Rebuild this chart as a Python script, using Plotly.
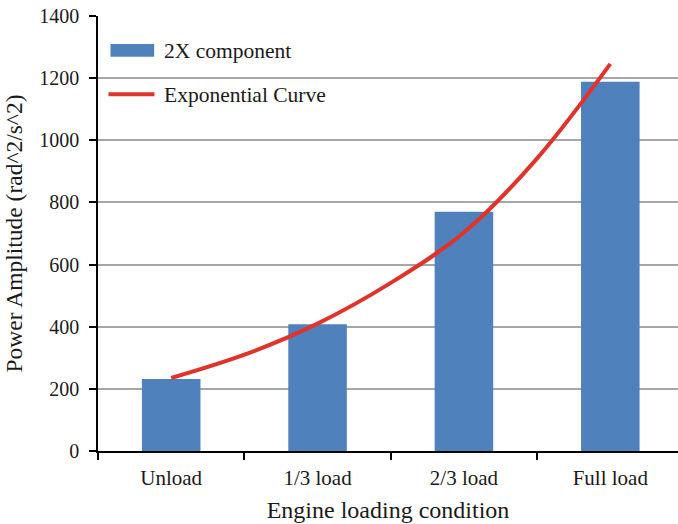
import plotly.graph_objects as go

categories = ["Unload", "1/3 load", "2/3 load", "Full load"]
bar_values = [232, 408, 770, 1188]

# exponential curve (x in category units)
curve_x = [0, 0.5, 1, 1.5, 2, 2.5, 3]
curve_y = [235, 310, 410, 541, 703, 942, 1246]

y_ticks = [0, 200, 400, 600, 800, 1000, 1200, 1400]

W, H = 678, 524
ml, mr, mt, mb = 97.5, 0, 16, 73
pw, ph = W - ml - mr, H - mt - mb

def px(x):
    return (x - ml) / pw

def py(y):
    return 1 - (y - mt) / ph

FONT = "Liberation Serif, Times New Roman, serif"
BLUE = "#4F81BD"
RED = "#E0332A"

fig = go.Figure()
fig.add_trace(go.Bar(x=categories, y=bar_values, marker=dict(color=BLUE, line=dict(width=0)),
                     width=0.4, name="2X component", showlegend=False))
fig.add_trace(go.Scatter(x=curve_x, y=curve_y, mode="lines", xaxis="x2",
                         line=dict(color=RED, width=4, shape="spline"),
                         name="Exponential Curve", showlegend=False))

xr = [-0.5, 3.5 - 5.5 / 146.3]
fig.update_layout(
    width=W, height=H,
    margin=dict(l=ml, r=mr, t=mt, b=mb, pad=0, autoexpand=False),
    plot_bgcolor="white", paper_bgcolor="white",
    font=dict(family=FONT, size=20, color="#1a1a1a"),
    bargap=0.6,
    xaxis=dict(type="category", range=xr, tickson="boundaries", ticks="outside",
               ticklen=7, tickwidth=1.5, tickcolor="black", showline=True,
               linecolor="black", linewidth=1.5, showgrid=False, automargin=False,
               ticklabelstandoff=7, tickfont=dict(size=21), ticklabeloverflow="allow",
               title=dict(text="Engine loading condition", font=dict(size=24), standoff=12)),
    xaxis2=dict(overlaying="x", range=xr, visible=False, showgrid=False),
    yaxis=dict(range=[0, 1400], tickvals=y_ticks, ticks="outside", ticklen=7,
               tickwidth=1.5, tickcolor="black", showline=True, linecolor="black",
               linewidth=1.5, showgrid=True, gridcolor="#A6A6A6", gridwidth=1.5,
               zeroline=False, ticklabelstandoff=6, tickfont=dict(size=20), automargin=False,
               ticklabeloverflow="allow",
               title=dict(text="Power Amplitude (rad^2/s^2)", font=dict(size=23.5), standoff=10)),
)

# legend drawn manually
fig.add_shape(type="rect", xref="paper", yref="paper",
              x0=px(110), x1=px(153.7), y0=py(56.7), y1=py(44),
              fillcolor=BLUE, line=dict(width=0))
fig.add_shape(type="line", xref="paper", yref="paper",
              x0=px(108), x1=px(154), y0=py(94.3), y1=py(94.3),
              line=dict(color=RED, width=4))
fig.add_annotation(xref="paper", yref="paper", x=px(162), y=py(50.5), text="2X component",
                   showarrow=False, xanchor="left", yanchor="middle", font=dict(size=21.5))
fig.add_annotation(xref="paper", yref="paper", x=px(162), y=py(94.5), text="Exponential Curve",
                   showarrow=False, xanchor="left", yanchor="middle", font=dict(size=21.5))

fig.write_html("out.html", config={"displayModeBar": False},
               post_script="document.body.style.margin='0';document.body.style.overflow='hidden';")
